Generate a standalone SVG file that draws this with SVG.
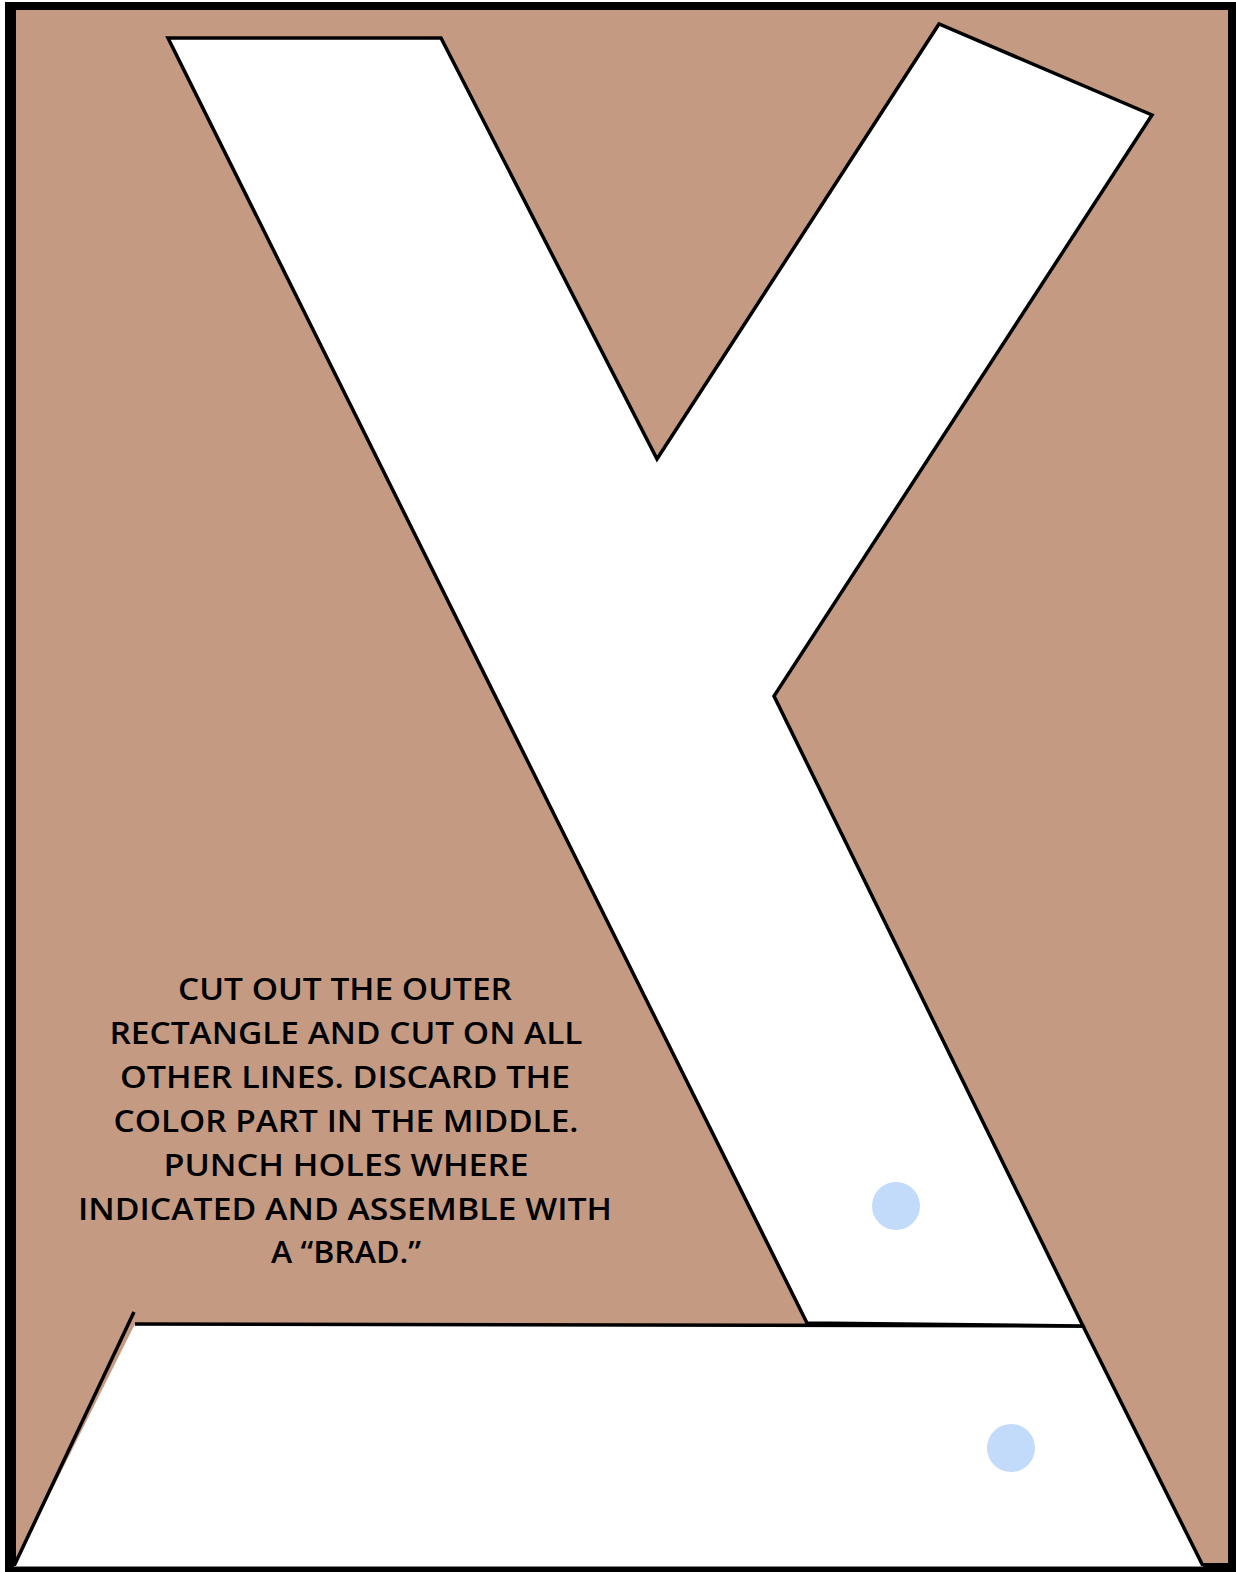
<svg xmlns="http://www.w3.org/2000/svg" width="1236" height="1572" viewBox="0 0 1236 1572">
<style>
.cut{fill:#fff;stroke:#000;stroke-width:3.5;stroke-linejoin:miter}
.ln{fill:none;stroke:#000;stroke-width:3.5}
.hole{fill:#c2dbfb}
.t{font-family:"Open Sans","Liberation Sans",sans-serif;font-size:31px;font-weight:600;fill:#000;text-anchor:middle}
</style>
<rect x="5" y="2" width="1231" height="1570" fill="#000"/>
<rect x="16" y="10" width="1212" height="1553" fill="#c49b82"/>
<g id="base">
<polygon points="135,1324 1083,1326 1203,1566 14,1566" fill="#fff"/>
<polyline class="ln" points="14,1566 134,1312"/>
<polyline class="ln" points="135,1324 1083,1326 1203,1566"/>
<line x1="14" y1="1566.5" x2="1203" y2="1566.5" stroke="#888" stroke-width="1"/>
</g>
<g id="y-letter">
<polygon class="cut" points="168,38 441,38 657,459 939,24 1152,115 774,696 1083,1326 807,1323"/>
</g>
<g id="holes">
<circle class="hole" cx="896" cy="1206" r="24"/>
<circle class="hole" cx="1011" cy="1448" r="24"/>
</g>
<g id="instructions">
<text class="t" x="345" y="1000" textLength="334" lengthAdjust="spacingAndGlyphs">CUT OUT THE OUTER</text>
<text class="t" x="346" y="1044" textLength="473" lengthAdjust="spacingAndGlyphs">RECTANGLE AND CUT ON ALL</text>
<text class="t" x="345" y="1088" textLength="450" lengthAdjust="spacingAndGlyphs">OTHER LINES. DISCARD THE</text>
<text class="t" x="346" y="1132" textLength="465" lengthAdjust="spacingAndGlyphs">COLOR PART IN THE MIDDLE.</text>
<text class="t" x="346" y="1176" textLength="365" lengthAdjust="spacingAndGlyphs">PUNCH HOLES WHERE</text>
<text class="t" x="345" y="1220" textLength="534" lengthAdjust="spacingAndGlyphs">INDICATED AND ASSEMBLE WITH</text>
<text class="t" x="346" y="1263" textLength="150" lengthAdjust="spacingAndGlyphs">A “BRAD.”</text>
</g>
</svg>
